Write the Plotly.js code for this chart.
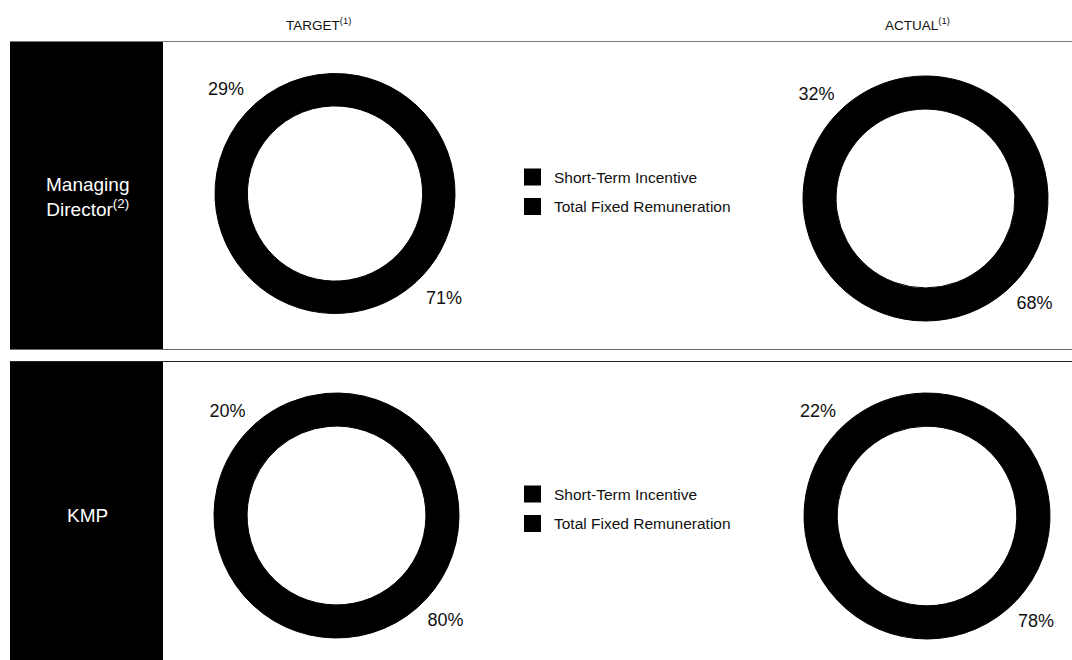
<!DOCTYPE html>
<html>
<head>
<meta charset="utf-8">
<script src="https://cdn.plot.ly/plotly-3.0.1.min.js"></script>
<style>
  html, body { margin: 0; padding: 0; background: #ffffff; }
  #chart { width: 1072px; height: 660px; }
</style>
</head>
<body>
<div id="chart"></div>
<script>
// ---- Data ----
const categories = ['Short-Term Incentive', 'Total Fixed Remuneration'];
const columnTitles = ['TARGET<sup>(1)</sup>', 'ACTUAL<sup>(1)</sup>'];
const rowTitles = ['Managing<br>Director<sup>(2)</sup>', 'KMP'];
const mdTarget = [29, 71];
const mdActual = [32, 68];
const kmpTarget = [20, 80];
const kmpActual = [22, 78];

// ---- Layout helpers (pixel -> paper) ----
const W = 1072, H = 660;
const px = x => x / W;
const py = y => 1 - y / H;
const FONT = '"Liberation Sans", Arial, Helvetica, sans-serif';
const FIRST_MID = 319;   // angle (deg, clockwise from 12 o'clock) of first slice middle
const LABEL_R = 131;     // radius of the (transparent) ring that carries the % labels

function rot(values) {
  return FIRST_MID - values[0] / (values[0] + values[1]) * 180;
}
function dom(cx, cy, r) {
  return { x: [px(cx - r), px(cx + r)], y: [py(cy + r), py(cy - r)] };
}

// visible donut ring
function donut(values, cx, cy, r) {
  return {
    type: 'pie',
    labels: categories,
    values: values,
    sort: false,
    direction: 'clockwise',
    rotation: rot(values),
    hole: 0.73,
    marker: { colors: ['#000000', '#000000'], line: { color: '#000000', width: 1 } },
    textinfo: 'none',
    automargin: false,
    showlegend: false,
    hoverinfo: 'skip',
    domain: dom(cx, cy, r)
  };
}
// transparent ring of the same data whose outside text gives the percentage labels
function labels(values, cx, cy) {
  return {
    type: 'pie',
    labels: categories,
    values: values,
    sort: false,
    direction: 'clockwise',
    rotation: rot(values),
    hole: 0.95,
    marker: { colors: ['rgba(0,0,0,0)', 'rgba(0,0,0,0)'], line: { width: 0 } },
    texttemplate: '%{value}%',
    textposition: 'outside',
    outsidetextfont: { family: FONT, size: 18, color: '#111111' },
    automargin: false,
    showlegend: false,
    hoverinfo: 'skip',
    domain: dom(cx, cy, LABEL_R)
  };
}

const panels = [
  [mdTarget, 335, 193.5, 120],
  [mdActual, 925.5, 198.5, 122.5],
  [kmpTarget, 336.5, 515.5, 122.5],
  [kmpActual, 927, 516, 123]
];
const data = [];
panels.forEach(([v, cx, cy, r]) => {
  data.push(donut(v, cx, cy, r));
  data.push(labels(v, cx, cy));
});

const shapes = [];
const annotations = [];

// panel rules and black row-label boxes
shapes.push({ type: 'line', xref: 'paper', yref: 'paper', x0: px(10), x1: px(1072), y0: py(41.5), y1: py(41.5), line: { color: '#7a7a7a', width: 1.2 } });
shapes.push({ type: 'line', xref: 'paper', yref: 'paper', x0: px(10), x1: px(1072), y0: py(349.5), y1: py(349.5), line: { color: '#6a6a6a', width: 1.2 } });
shapes.push({ type: 'line', xref: 'paper', yref: 'paper', x0: px(10), x1: px(1072), y0: py(361.5), y1: py(361.5), line: { color: '#222222', width: 1.2 } });
shapes.push({ type: 'rect', xref: 'paper', yref: 'paper', x0: px(10), x1: px(163), y0: py(42), y1: py(349), fillcolor: '#000000', line: { width: 0 } });
shapes.push({ type: 'rect', xref: 'paper', yref: 'paper', x0: px(10), x1: px(163), y0: py(362), y1: py(660), fillcolor: '#000000', line: { width: 0 } });

// column titles
[[318, columnTitles[0]], [917, columnTitles[1]]].forEach(([x, t]) => {
  annotations.push({ xref: 'paper', yref: 'paper', x: px(x), y: py(24), text: t, showarrow: false,
    xanchor: 'center', yanchor: 'middle', font: { family: FONT, size: 13.5, color: '#111111' } });
});

// row titles
[[197, rowTitles[0]], [515, rowTitles[1]]].forEach(([y, t]) => {
  annotations.push({ xref: 'paper', yref: 'paper', x: px(87), y: py(y), text: t, showarrow: false,
    xanchor: 'center', yanchor: 'middle', align: 'center', font: { family: FONT, size: 19, color: '#ffffff' } });
});

// legends (one per row)
[[177, 206.5], [494, 523.5]].forEach(rows => {
  rows.forEach((yc, i) => {
    shapes.push({ type: 'rect', xref: 'paper', yref: 'paper', x0: px(524), x1: px(541), y0: py(yc + 8.5), y1: py(yc - 8.5),
      fillcolor: '#000000', line: { width: 0 } });
    annotations.push({ xref: 'paper', yref: 'paper', x: px(552), y: py(yc), text: categories[i], showarrow: false,
      xanchor: 'left', yanchor: 'middle', font: { family: FONT, size: 15.5, color: '#111111' } });
  });
});

const layout = {
  width: W, height: H,
  margin: { l: 0, r: 0, t: 0, b: 0 },
  paper_bgcolor: '#ffffff',
  plot_bgcolor: '#ffffff',
  showlegend: false,
  font: { family: FONT, color: '#111111' },
  shapes: shapes,
  annotations: annotations
};

Plotly.newPlot('chart', data, layout, { displayModeBar: false, staticPlot: true });
</script>
</body>
</html>
